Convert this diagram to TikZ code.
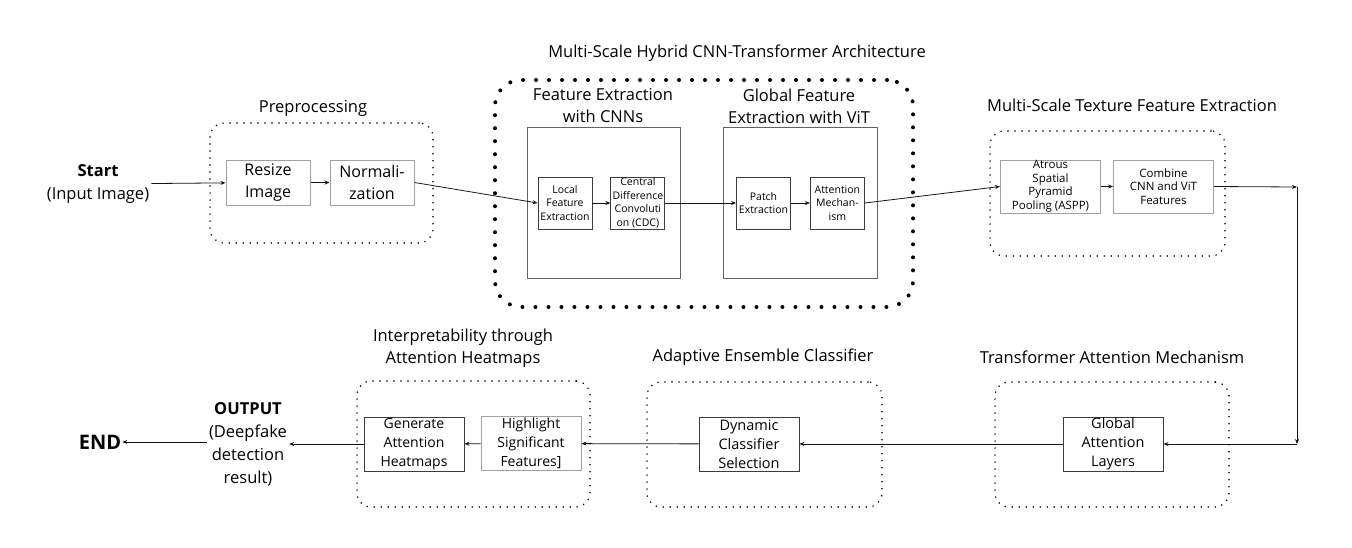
\documentclass[tikz,border=0pt]{standalone}
\usepackage{fontspec}
\setmainfont{Open Sans}
\usepackage{tikz}
\usetikzlibrary{arrows.meta, positioning}
\definecolor{boxgray}{RGB}{160,160,160}
\definecolor{boxdark}{RGB}{60,60,60}
\definecolor{linedark}{RGB}{20,20,20}

\begin{document}
\begin{tikzpicture}[
    x=1pt, y=-1pt,
    node distance=18pt,
    % step boxes
    lightbox/.style={rectangle, draw=boxgray, line width=1pt, align=center, inner sep=0pt, minimum width=84pt, minimum height=45pt, font=\fontsize{16}{22}\selectfont},
    smallbox/.style={rectangle, draw=boxdark, line width=0.9pt, align=center, inner sep=0pt, minimum width=54pt, minimum height=52pt, font=\fontsize{10.5}{13.5}\selectfont},
    asppbox/.style={rectangle, draw=boxgray, line width=1pt, align=center, inner sep=0pt, minimum width=100pt, minimum height=53pt, font=\fontsize{11.5}{13.5}\selectfont},
    lowbox/.style={rectangle, draw=boxdark, line width=0.9pt, align=center, inner sep=0pt, minimum width=100pt, minimum height=54pt, font=\fontsize{14.5}{19}\selectfont},
    % groups
    panel/.style={rectangle, draw=boxdark!80, line width=0.8pt, inner sep=0pt},
    dotgroup/.style={rectangle, rounded corners=14pt, draw=black, line width=1.7pt, line cap=round, dash pattern=on 0pt off 7pt, inner sep=0pt},
    bigdotgroup/.style={rectangle, rounded corners=26pt, draw=black, line width=4pt, line cap=round, dash pattern=on 0pt off 13pt, inner sep=0pt},
    heading/.style={align=center, inner sep=0pt, font=\fontsize{16.5}{22}\selectfont},
    plain/.style={align=center, inner sep=2pt, font=\fontsize{16.5}{23}\selectfont},
    arr/.style={-{Stealth[length=5pt, width=4pt]}, line width=0.8pt, draw=linedark}
  ]
  \useasboundingbox (0,0) rectangle (1352,547);

  % top row
  \node[plain] (start) at (98,184) {\textbf{Start}\\(Input Image)};

  \node[dotgroup, minimum width=223pt, minimum height=120pt] (prepgroup) at (321.5,183) {};
  \node[heading] (preplabel) at (313,108) {Preprocessing};
  \node[lightbox] (resize) at (268,182.5) {Resize\\Image};
  \node[lightbox, right=19pt of resize] (norm) {Normali-\\zation};

  \node[bigdotgroup, minimum width=418pt, minimum height=227pt] (hybridgroup) at (704,193.5) {};
  \node[heading] (hybridlabel) at (737,53) {Multi-Scale Hybrid CNN-Transformer Architecture};

  \node[panel, minimum width=153pt, minimum height=151pt] (cnnpanel) at (603.5,202.5) {};
  \node[heading] (cnnlabel) at (603,106) {Feature Extraction\\with CNNs};
  \node[smallbox] (local) at (565,203) {Local\\Feature\\Extraction};
  \node[smallbox, right=18pt of local] (cdc) {Central\\Difference\\Convoluti\\on (CDC)};

  \node[panel, minimum width=154pt, minimum height=151pt] (vitpanel) at (800,202.5) {};
  \node[heading] (vitlabel) at (799,106) {Global Feature\\Extraction with ViT};
  \node[smallbox] (patch) at (763.5,203) {Patch\\Extraction};
  \node[smallbox, right=19pt of patch] (attn) {Attention\\Mechan-\\ism};

  \node[dotgroup, minimum width=235pt, minimum height=125pt] (texgroup) at (1107.5,193.5) {};
  \node[heading] (texlabel) at (1132,105) {Multi-Scale Texture Feature Extraction};
  \node[asppbox] (aspp) at (1050.5,186.5) {Atrous\\Spatial\\Pyramid\\Pooling (ASPP)};
  \node[asppbox, right=12pt of aspp] (combine) {Combine\\CNN and ViT\\Features};

  \coordinate (turnA) at (1297,187);
  \coordinate (turnB) at (1297,444);

  % bottom row
  \node[dotgroup, minimum width=234pt, minimum height=125pt] (transgroup) at (1112,444.5) {};
  \node[heading] (translabel) at (1112,357) {Transformer Attention Mechanism};
  \node[lowbox] (global) at (1113,444) {Global\\Attention\\Layers};

  \node[dotgroup, minimum width=235pt, minimum height=125pt] (ensgroup) at (764.5,444.5) {};
  \node[heading] (enslabel) at (763,357) {Adaptive Ensemble Classifier};
  \node[lowbox] (dynamic) at (749,444) {Dynamic\\Classifier\\Selection};

  \node[dotgroup, minimum width=233pt, minimum height=126pt] (interpgroup) at (473.5,444) {};
  \node[heading] (interplabel) at (463,348) {Interpretability through\\Attention Heatmaps};
  \node[lowbox, draw=boxgray, font=\fontsize{14}{19}\selectfont] (highlight) at (531,443.5) {Highlight\\Significant\\Features]};
  \node[lowbox, font=\fontsize{14}{19}\selectfont] (generate) at (414,444) {Generate\\Attention\\Heatmaps};

  \node[plain] (output) at (248,444) {\textbf{OUTPUT}\\(Deepfake\\detection\\result)};
  \node[inner sep=1pt, font=\fontsize{20}{24}\selectfont\bfseries] (end) at (100,442) {END};

  % connectors
  \draw[arr] (start) -- (resize);
  \draw[arr] (resize) -- (norm);
  \draw[arr] (norm.east) -- (local.west);
  \draw[arr] (local) -- (cdc);
  \draw[arr] (cdc.east) -- (patch.west);
  \draw[arr] (patch) -- (attn);
  \draw[arr] (attn.east) -- (aspp.west);
  \draw[arr] (aspp) -- (combine);
  \draw[arr] (combine.east) -- (turnA);
  \draw[arr] (turnA) -- (turnB);
  \draw[arr] (turnB) -- (global.east);
  \draw[arr] (global) -- (dynamic);
  \draw[arr] (dynamic) -- (highlight);
  \draw[arr] (highlight) -- (generate);
  \draw[arr] (generate.west) -- (output.east |- generate.west);
  \draw[arr] (output.west |- end.east) -- (end);
\end{tikzpicture}
\end{document}
